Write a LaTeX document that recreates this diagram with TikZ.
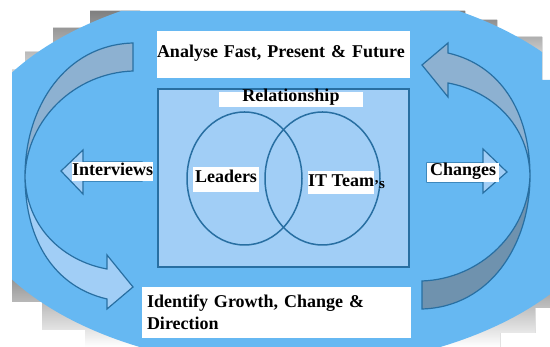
\documentclass[tikz,border=0pt]{standalone}
\usepackage{fontspec}
\setmainfont{Liberation Serif}
\usetikzlibrary{shapes,arrows}

\definecolor{ringblue}{RGB}{102,184,242}
\definecolor{paleblue}{RGB}{161,206,246}
\definecolor{edgeblue}{RGB}{40,111,162}
\definecolor{bandblue}{RGB}{141,177,209}
\definecolor{banddark}{RGB}{111,146,174}
\definecolor{shade}{RGB}{235,235,235}

\tikzstyle{block} = [rectangle, draw=edgeblue, line width=2pt, fill=paleblue,
    minimum width=251pt, minimum height=178pt]
\tikzstyle{venn} = [ellipse, draw=edgeblue, line width=1.5pt, inner sep=0pt,
    minimum width=115pt, minimum height=133pt]
\tikzstyle{labelbox} = [fill=white, inner sep=0pt, font=\bfseries\fontsize{18}{22}\selectfont]
\tikzstyle{band} = [draw=edgeblue, line width=1.2pt]
\tikzstyle{arrowbox} = [draw=edgeblue, line width=1.2pt, fill=paleblue]

\begin{document}
\begin{tikzpicture}[x=1pt, y=1pt, node distance=123.5pt]

	\useasboundingbox (0,0) rectangle (550,347);

	\fill [shade] (12,247) -- (12,277) -- (25,277) -- (25,295) -- (53,295) -- (53,319) -- (90,319) -- (90,336) -- (140,336) -- (140,247) -- cycle;
	\fill [shade] (420,336) -- (465,336) -- (465,327) -- (497,327) -- (497,310) -- (542,310) -- (542,267) -- (420,267) -- cycle;
	\fill [shade] (12,82) -- (12,45) -- (42,45) -- (42,17) -- (85,17) -- (85,0) -- (150,0) -- (150,82) -- cycle;
	\fill [shade] (550,80) -- (550,39) -- (535,39) -- (535,14) -- (500,14) -- (500,0) -- (420,0) -- (420,80) -- cycle;

	\begin{scope}
		\clip (12,0) -- (12,336) -- (542,336) -- (542,267) -- (550,267) -- (550,0) -- cycle;
		\fill [ringblue] (290,171) ellipse [x radius=330pt, y radius=192pt];
	\end{scope}

	\path [band, fill=bandblue] (133,304) .. controls (65,302) and (25,240) .. (25,171)
		.. controls (27,228) and (75,274) .. (133,276) -- cycle;
	\path [band, fill=bandblue] (530,171) .. controls (530,236) and (500,282) .. (448,294)
		-- (448,304) -- (422,282) -- (448,250) -- (448,264)
		.. controls (492,256) and (529,222) .. (530,171) -- cycle;

	\begin{scope}[rotate around={180:(277.5,171)}]
		\path [band, fill=banddark] (133,304) .. controls (65,302) and (25,240) .. (25,171)
			.. controls (27,228) and (75,274) .. (133,276) -- cycle;
		\path [band, fill=paleblue] (530,171) .. controls (530,236) and (500,282) .. (448,294)
			-- (448,304) -- (422,282) -- (448,250) -- (448,264)
			.. controls (492,256) and (529,222) .. (530,171) -- cycle;
	\end{scope}

	\node [block] (core) at (283.5,169) {};

	\node [labelbox, above of=core, text width=253pt, align=left, text height=27pt, text depth=20pt] (analyse) {Analyse Fast, Present \& Future};
	\node [labelbox, text width=259pt, align=left, inner xsep=5pt, minimum height=51pt] (identify) at (276.5,34.5) {Identify Growth, Change \&\\Direction};

	\node [labelbox, minimum width=144pt, text height=10pt, text depth=5pt, anchor=base] (relation) at (291,245) {Relationship};

	\node [venn] (leadring) at (244.5,168.5) {};
	\node [venn] (teamring) at (322.5,168.5) {};

	\node [labelbox, minimum width=66pt, text height=16pt, text depth=9pt, anchor=base] (leaders) at (226,164) {Leaders};
	\node [labelbox, text height=16pt, text depth=7pt, anchor=base west] (team) at (308,160) {IT Team\rlap{\fontsize{15}{15}\selectfont\raisebox{-4pt}{'}\raisebox{-1.5pt}{s}}};

	\path [arrowbox] (61,176) -- (83,197) -- (83,185) -- (142,185) -- (142,166) -- (83,166) -- (83,153) -- cycle;
	\node [labelbox, text height=14pt, text depth=5pt, anchor=base west] (interviews) at (72,171) {Interviews};

	\path [arrowbox] (507,175) -- (483,198) -- (483,184) -- (427,184) -- (427,165) -- (483,165) -- (483,154) -- cycle;
	\node [labelbox, minimum width=72pt, text height=13pt, text depth=6pt, anchor=base west] (changes) at (427,171) {Changes};

\end{tikzpicture}
\end{document}
